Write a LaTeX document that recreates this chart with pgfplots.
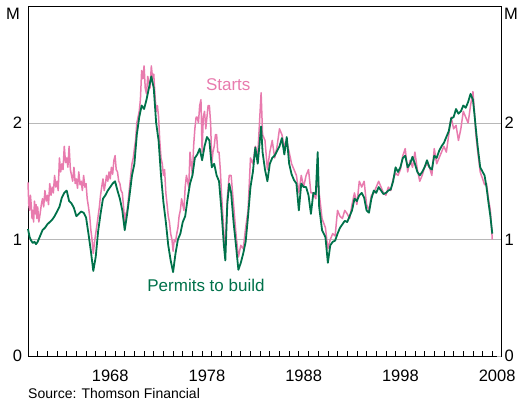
\documentclass[border=0pt]{standalone}
\usepackage{pgfplots}
\usepackage{pgfplotstable}
\pgfplotsset{compat=1.18}
\usepackage{fontspec}
\setmainfont{Liberation Sans}
\definecolor{rbapink}{HTML}{E87BAE}
\definecolor{rbagreen}{HTML}{00714A}
\definecolor{gridgrey}{HTML}{B8B8B8}

\pgfplotstableread{
x P
1960.00 1.09
1960.17 1.02
1960.33 0.99
1960.50 0.97
1960.67 0.98
1960.83 0.96
1961.00 0.98
1961.25 1.03
1961.50 1.08
1961.75 1.10
1962.00 1.13
1962.25 1.15
1962.50 1.17
1962.75 1.20
1963.00 1.24
1963.25 1.28
1963.50 1.36
1963.75 1.40
1964.00 1.42
1964.25 1.33
1964.50 1.31
1964.75 1.27
1965.00 1.20
1965.25 1.22
1965.50 1.24
1965.75 1.23
1966.00 1.19
1966.25 1.05
1966.50 0.90
1966.75 0.73
1967.00 0.85
1967.25 1.07
1967.50 1.22
1967.75 1.35
1968.00 1.38
1968.25 1.42
1968.50 1.45
1968.75 1.48
1969.00 1.50
1969.25 1.42
1969.50 1.35
1969.75 1.25
1970.00 1.08
1970.25 1.22
1970.50 1.38
1970.75 1.55
1971.00 1.65
1971.25 1.90
1971.50 2.05
1971.75 2.15
1972.00 2.12
1972.25 2.20
1972.50 2.30
1972.75 2.40
1973.00 2.30
1973.25 2.00
1973.50 1.85
1973.75 1.55
1974.00 1.32
1974.25 1.15
1974.50 0.95
1974.75 0.82
1975.00 0.72
1975.25 0.88
1975.50 1.00
1975.75 1.05
1976.00 1.15
1976.25 1.20
1976.50 1.35
1976.75 1.48
1977.00 1.55
1977.25 1.70
1977.50 1.73
1977.75 1.78
1978.00 1.68
1978.25 1.80
1978.50 1.88
1978.75 1.85
1979.00 1.62
1979.25 1.65
1979.50 1.55
1979.75 1.50
1980.00 1.25
1980.25 0.95
1980.40 0.82
1980.60 1.30
1980.80 1.48
1981.00 1.40
1981.25 1.15
1981.50 0.95
1981.75 0.74
1982.00 0.80
1982.25 0.88
1982.50 0.98
1982.75 1.20
1983.00 1.45
1983.25 1.58
1983.50 1.79
1983.75 1.65
1984.10 1.97
1984.25 1.75
1984.50 1.60
1984.75 1.50
1985.00 1.65
1985.25 1.70
1985.50 1.72
1985.75 1.76
1986.00 1.80
1986.25 1.87
1986.50 1.73
1986.75 1.88
1987.00 1.65
1987.25 1.56
1987.50 1.51
1987.75 1.48
1988.00 1.25
1988.25 1.48
1988.50 1.45
1988.75 1.45
1989.00 1.38
1989.25 1.22
1989.50 1.40
1989.75 1.39
1989.95 1.75
1990.10 1.28
1990.40 1.08
1990.75 1.02
1991.00 0.80
1991.25 0.95
1991.50 0.98
1991.75 0.99
1992.00 1.05
1992.25 1.10
1992.50 1.13
1992.75 1.16
1993.00 1.15
1993.25 1.20
1993.50 1.25
1993.75 1.35
1994.00 1.33
1994.25 1.38
1994.50 1.40
1994.75 1.36
1995.00 1.25
1995.25 1.23
1995.50 1.35
1995.75 1.42
1996.00 1.40
1996.25 1.45
1996.50 1.42
1996.75 1.39
1997.00 1.40
1997.25 1.42
1997.50 1.43
1997.75 1.50
1998.00 1.62
1998.25 1.58
1998.50 1.62
1998.75 1.70
1999.00 1.72
1999.25 1.62
1999.50 1.65
1999.75 1.71
2000.00 1.65
2000.25 1.58
2000.50 1.55
2000.75 1.58
2001.00 1.62
2001.25 1.68
2001.50 1.62
2001.75 1.60
2002.00 1.72
2002.25 1.70
2002.50 1.76
2002.75 1.80
2003.00 1.83
2003.25 1.88
2003.50 1.93
2003.75 2.04
2004.00 2.05
2004.25 2.12
2004.50 2.08
2004.75 2.10
2005.00 2.15
2005.25 2.13
2005.50 2.18
2005.75 2.25
2006.00 2.20
2006.15 2.08
2006.30 1.95
2006.50 1.79
2006.75 1.62
2007.00 1.58
2007.20 1.55
2007.40 1.45
2007.60 1.32
2007.80 1.20
2008.00 1.05
}\permits

\pgfplotstableread{
x S
1960.00 1.49
1960.08 1.30
1960.17 1.25
1960.25 1.38
1960.33 1.30
1960.42 1.18
1960.50 1.25
1960.58 1.15
1960.67 1.33
1960.75 1.22
1960.83 1.30
1960.92 1.18
1961.00 1.28
1961.12 1.15
1961.25 1.22
1961.38 1.30
1961.50 1.35
1961.62 1.28
1961.75 1.42
1961.88 1.33
1962.00 1.38
1962.12 1.30
1962.25 1.48
1962.38 1.38
1962.50 1.45
1962.62 1.40
1962.75 1.55
1962.88 1.45
1963.00 1.50
1963.12 1.42
1963.25 1.70
1963.38 1.58
1963.50 1.65
1963.62 1.60
1963.75 1.80
1963.88 1.66
1964.00 1.70
1964.12 1.62
1964.25 1.80
1964.38 1.60
1964.50 1.55
1964.62 1.50
1964.75 1.62
1964.88 1.48
1965.00 1.52
1965.12 1.44
1965.25 1.58
1965.38 1.47
1965.50 1.50
1965.62 1.42
1965.75 1.55
1965.88 1.45
1966.00 1.48
1966.12 1.35
1966.25 1.28
1966.38 1.20
1966.50 1.08
1966.62 1.00
1966.75 0.88
1966.88 0.98
1967.00 1.05
1967.12 1.12
1967.25 1.20
1967.38 1.28
1967.50 1.38
1967.62 1.45
1967.75 1.52
1967.88 1.42
1968.00 1.48
1968.12 1.55
1968.25 1.50
1968.38 1.58
1968.50 1.52
1968.62 1.62
1968.75 1.56
1968.88 1.68
1969.00 1.72
1969.12 1.60
1969.25 1.58
1969.38 1.50
1969.50 1.48
1969.62 1.42
1969.75 1.40
1969.88 1.28
1970.00 1.15
1970.12 1.22
1970.25 1.25
1970.38 1.35
1970.50 1.45
1970.62 1.55
1970.75 1.65
1970.88 1.70
1971.00 1.78
1971.12 1.85
1971.25 2.00
1971.38 2.05
1971.50 2.10
1971.62 2.20
1971.75 2.45
1971.88 2.38
1972.00 2.49
1972.12 2.30
1972.25 2.25
1972.38 2.40
1972.50 2.35
1972.62 2.30
1972.75 2.49
1972.88 2.38
1973.00 2.42
1973.12 2.25
1973.25 2.10
1973.38 2.15
1973.50 2.05
1973.62 1.85
1973.75 1.70
1973.88 1.65
1974.00 1.55
1974.12 1.60
1974.25 1.40
1974.38 1.30
1974.50 1.20
1974.62 1.15
1974.75 1.05
1974.88 1.00
1975.00 0.90
1975.12 1.00
1975.25 0.98
1975.38 1.05
1975.50 1.10
1975.62 1.20
1975.75 1.25
1975.88 1.35
1976.00 1.30
1976.12 1.25
1976.25 1.45
1976.38 1.55
1976.50 1.50
1976.62 1.45
1976.75 1.75
1976.88 1.65
1977.00 1.55
1977.12 1.80
1977.25 1.95
1977.38 2.05
1977.50 2.05
1977.62 2.00
1977.75 2.15
1977.88 2.20
1978.00 1.75
1978.12 2.05
1978.25 2.10
1978.38 1.95
1978.50 2.05
1978.62 2.15
1978.75 2.15
1978.88 2.00
1979.00 1.65
1979.12 1.75
1979.25 1.80
1979.38 1.90
1979.50 1.90
1979.62 1.75
1979.75 1.75
1979.88 1.60
1980.00 1.40
1980.25 1.05
1980.40 0.93
1980.60 1.35
1980.80 1.55
1981.00 1.55
1981.25 1.30
1981.50 1.05
1981.75 0.85
1982.00 0.95
1982.25 0.92
1982.50 1.10
1982.75 1.25
1983.00 1.70
1983.25 1.65
1983.50 1.80
1983.75 1.72
1984.10 2.26
1984.25 1.90
1984.50 1.85
1984.75 1.60
1985.00 1.75
1985.25 1.85
1985.50 1.70
1985.75 1.80
1986.00 1.95
1986.25 1.90
1986.50 1.80
1986.75 1.85
1987.00 1.75
1987.25 1.65
1987.50 1.60
1987.75 1.55
1988.00 1.40
1988.25 1.55
1988.50 1.45
1988.75 1.55
1989.00 1.60
1989.25 1.40
1989.50 1.40
1989.75 1.35
1989.95 1.55
1990.10 1.40
1990.40 1.18
1990.75 1.10
1991.00 0.92
1991.25 1.00
1991.50 1.05
1991.75 1.03
1992.00 1.25
1992.25 1.20
1992.50 1.18
1992.75 1.25
1993.00 1.22
1993.25 1.18
1993.50 1.30
1993.75 1.40
1994.00 1.30
1994.25 1.50
1994.50 1.45
1994.75 1.50
1995.00 1.30
1995.25 1.25
1995.50 1.38
1995.75 1.40
1996.00 1.45
1996.25 1.50
1996.50 1.45
1996.75 1.40
1997.00 1.38
1997.25 1.45
1997.50 1.42
1997.75 1.52
1998.00 1.57
1998.25 1.55
1998.50 1.60
1998.75 1.72
1999.00 1.78
1999.25 1.58
1999.50 1.68
1999.75 1.62
2000.00 1.75
2000.25 1.60
2000.50 1.50
2000.75 1.55
2001.00 1.62
2001.25 1.65
2001.50 1.62
2001.75 1.55
2002.00 1.78
2002.25 1.65
2002.50 1.70
2002.75 1.75
2003.00 1.80
2003.25 1.75
2003.50 1.90
2003.75 2.05
2004.00 1.95
2004.25 1.98
2004.50 1.85
2004.75 1.95
2005.00 2.10
2005.25 2.05
2005.50 2.00
2005.75 2.15
2006.00 2.27
2006.15 2.10
2006.30 1.90
2006.50 1.75
2006.75 1.58
2007.00 1.52
2007.20 1.47
2007.40 1.48
2007.60 1.35
2007.80 1.25
2008.00 1.00
}\starts

\begin{document}
\begin{tikzpicture}[x=1pt,y=1pt]
\path[use as bounding box] (-28,-47) rectangle (492,356);
\begin{axis}[
  at={(0,0)}, anchor=south west,
  scale only axis, width=473pt, height=349.5pt,
  xmin=0, xmax=48.9, ymin=0, ymax=3,
  axis line style={black, line width=0.9pt},
  xtick=\empty,
  ytick={0,1,2}, yticklabels={0,1,2},
  ymajorgrids, grid style={gridgrey, line width=0.8pt},
  every y tick/.style={gridgrey, line width=0.8pt},
  ytick pos=left, ytick align=inside,
  yticklabel pos=left,
  /pgf/number format/assume math mode=true,
  tick label style={font=\fontsize{16.5}{16.5}\selectfont},
  yticklabel style={xshift=-2.5pt},
  clip=false,
]
\foreach \t in {1,...,48} {
  \edef\temp{\noexpand\draw[black, line width=0.7pt] (axis cs:\t,0) -- ++(0,4.5pt);}
  \temp
}
\addplot[rbapink, line width=1.5pt, line join=round] table[x expr=\thisrow{x}-1960, y=S] {\starts};
\addplot[rbagreen, line width=1.8pt, line join=round] table[x expr=\thisrow{x}-1960, y=P] {\permits};
\node[rbapink, font=\fontsize{17}{17}\selectfont] at (axis cs:20.7,2.33) {Starts};
\node[rbagreen, font=\fontsize{17}{17}\selectfont] at (axis cs:18.4,0.61) {Permits to build};
\foreach \yr/\pos in {1968/8.5,1978/18.5,1988/28.5,1998/38.5,2008/48.5} {
  \edef\temp{\noexpand\node[anchor=base, inner sep=0pt, font=\noexpand\fontsize{16.5}{16.5}\noexpand\selectfont] at (axis cs:\pos,0) [yshift=-26pt] {\yr};}
  \temp
}
\end{axis}
\begin{axis}[
  at={(0,0)}, anchor=south west,
  scale only axis, width=473pt, height=349.5pt,
  xmin=0, xmax=48.9, ymin=0, ymax=3,
  hide x axis, axis y line*=right,
  axis line style={black, line width=0.9pt},
  ytick={0,1,2}, yticklabels={0,1,2},
  every y tick/.style={gridgrey, line width=0.8pt},
  ytick align=inside,
  /pgf/number format/assume math mode=true,
  tick label style={font=\fontsize{16.5}{16.5}\selectfont},
  yticklabel style={xshift=0pt},
]
\end{axis}
\node[font=\fontsize{16.5}{16.5}\selectfont] at (-15,342) {M};
\node[font=\fontsize{16.5}{16.5}\selectfont] at (483,342) {M};
\node[anchor=west, inner sep=0pt, font=\fontsize{14}{14}\selectfont] at (0,-38) {Source: Thomson Financial};
\end{tikzpicture}
\end{document}
